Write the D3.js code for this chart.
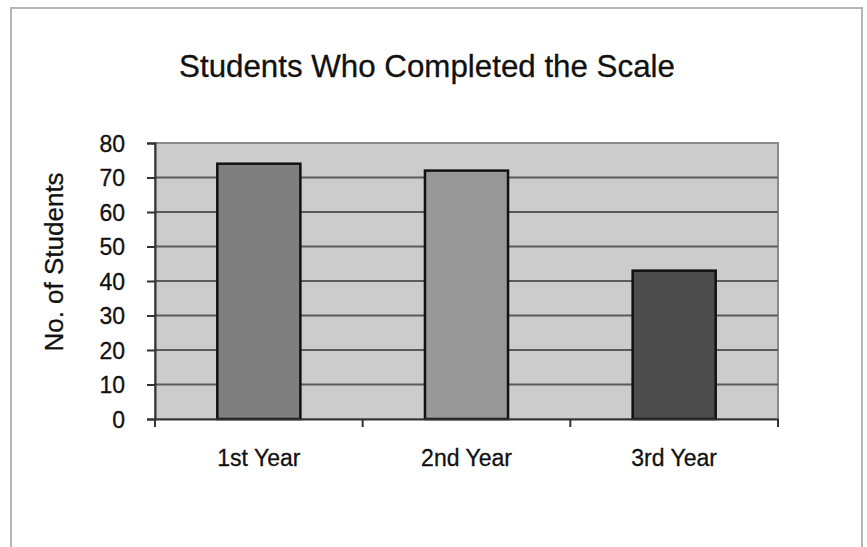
<!DOCTYPE html>
<html><head><meta charset="utf-8">
<script src="https://cdn.jsdelivr.net/npm/d3@7"></script>
<style>html,body{margin:0;padding:0;background:#fff;}svg{display:block;font-family:"Liberation Sans",Arial,Helvetica,sans-serif;}</style>
</head><body>
<svg id="c" width="867" height="547"></svg>
<script>
const categories = ["1st Year", "2nd Year", "3rd Year"];
const values = [74, 72, 43];
const barColors = ["#7f7f7f", "#989898", "#4c4c4c"];
const yTicks = [0, 10, 20, 30, 40, 50, 60, 70, 80];
const title = "Students Who Completed the Scale";
const yTitle = "No. of Students";

const svg = d3.select("#c");
const m = {left: 155, right: 778, top: 143, bottom: 419};

// outer frame
svg.append("rect").attr("x", 11).attr("y", 8).attr("width", 851).attr("height", 560)
  .attr("fill", "#fff").attr("stroke", "#b5b5b5").attr("stroke-width", 2);

const x = d3.scaleBand().domain(categories).range([m.left, m.right]).paddingInner(0).paddingOuter(0);
const y = d3.scaleLinear().domain([0, 80]).range([m.bottom, m.top]);

// plot area
svg.append("rect").attr("x", m.left).attr("y", m.top).attr("width", m.right - m.left).attr("height", m.bottom - m.top)
  .attr("fill", "#cccccc").attr("stroke", "#8a8a8a").attr("stroke-width", 2);

// gridlines
svg.append("g").selectAll("line").data(yTicks.filter(d => d > 0)).join("line")
  .attr("x1", m.left).attr("x2", m.right).attr("y1", d => y(d)).attr("y2", d => y(d))
  .attr("stroke", d => d === 80 ? "#8a8a8a" : "#5a5a5a").attr("stroke-width", 2);

// bars
const bw = x.bandwidth() * 0.4;
svg.append("g").selectAll("rect").data(values).join("rect")
  .attr("x", (d, i) => x(categories[i]) + (x.bandwidth() - bw) / 2)
  .attr("width", bw)
  .attr("y", d => y(d))
  .attr("height", d => y(0) - y(d))
  .attr("fill", (d, i) => barColors[i])
  .attr("stroke", "#111").attr("stroke-width", 2.5);

const txt = sel => sel.attr("font-family", "Liberation Sans, Arial, sans-serif").attr("fill", "#111")
  .attr("stroke", "#111").attr("stroke-width", 0.3);

// y axis
const yAxis = d3.axisLeft(y).tickValues(yTicks).tickSize(8).tickPadding(22);
const gy = svg.append("g").attr("transform", `translate(${m.left},0)`).call(yAxis);
gy.select(".domain").attr("stroke", "#333").attr("stroke-width", 2);
gy.selectAll(".tick line").attr("stroke", "#333").attr("stroke-width", 2);
gy.selectAll(".tick text").attr("font-size", 23).attr("dy", "0.36em").call(txt);

// x axis
const xAxis = d3.axisBottom(x).tickSize(0).tickPadding(31);
const gx = svg.append("g").attr("transform", `translate(0,${m.bottom})`).call(xAxis);
gx.select(".domain").attr("stroke", "#333").attr("stroke-width", 2);
gx.selectAll(".tick text").attr("font-size", 23).call(txt);
// category separator ticks
const bounds = [m.left].concat(categories.map(c => x(c) + x.bandwidth()));
svg.append("g").selectAll("line").data(bounds).join("line")
  .attr("x1", d => d).attr("x2", d => d).attr("y1", m.bottom).attr("y2", m.bottom + 8)
  .attr("stroke", "#333").attr("stroke-width", 2);

// titles
svg.append("text").attr("x", 427).attr("y", 77).attr("text-anchor", "middle")
  .attr("font-size", 31.3).call(txt).text(title);
svg.append("text").attr("transform", "translate(63,262) rotate(-90)").attr("text-anchor", "middle")
  .attr("font-size", 26).call(txt).text(yTitle);
</script>
</body></html>
